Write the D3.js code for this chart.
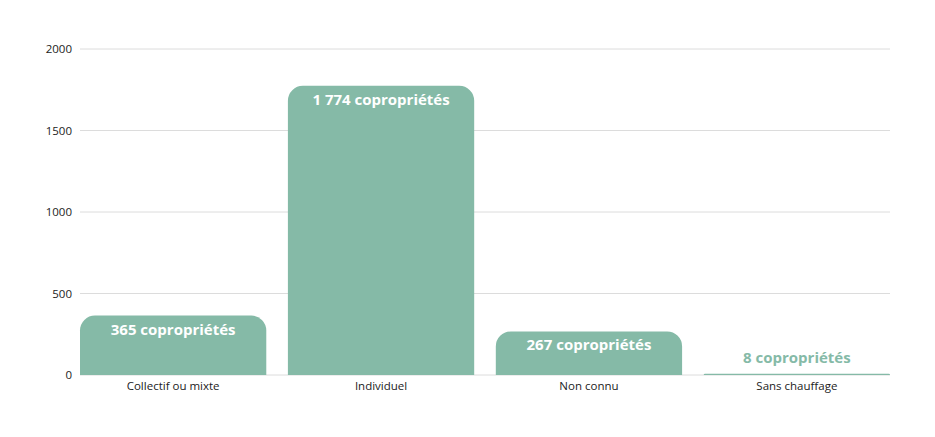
<!DOCTYPE html>
<html>
<head>
<meta charset="utf-8">
<script src="https://cdn.jsdelivr.net/npm/d3@7"></script>
<style>
  body { margin: 0; background: #fff; }
  svg text { font-family: "Open Sans", sans-serif; }
</style>
</head>
<body>
<script>
var categories = ['Collectif ou mixte', 'Individuel', 'Non connu', 'Sans chauffage'];
var values = [365, 1774, 267, 8];
var yTicks = [0, 500, 1000, 1500, 2000];

var width = 935, height = 437;
var margin = {top: 49, right: 45, bottom: 62, left: 80};
var color = '#85baa7';

var svg = d3.select('body').append('svg')
  .attr('width', width)
  .attr('height', height);

var x = d3.scaleBand()
  .domain(categories)
  .range([margin.left, width - margin.right])
  .paddingInner(0.104)
  .paddingOuter(0);

var y = d3.scaleLinear()
  .domain([0, 2000])
  .range([height - margin.bottom, margin.top]);

// grid lines
svg.append('g')
  .selectAll('line')
  .data(yTicks)
  .enter().append('line')
  .attr('x1', margin.left)
  .attr('x2', width - margin.right)
  .attr('y1', function(d) { return y(d); })
  .attr('y2', function(d) { return y(d); })
  .attr('stroke', '#dcdcdc')
  .attr('stroke-width', 1);

// y axis labels
var yAxis = svg.append('g')
  .attr('transform', 'translate(' + margin.left + ',0)')
  .call(d3.axisLeft(y).tickValues(yTicks).tickSize(0).tickPadding(8).tickFormat(d3.format('d')));
yAxis.select('.domain').remove();
yAxis.selectAll('text').attr('font-size', 11.5).attr('fill', '#222');

// rounded-top bars
function barPath(d, i) {
  var x0 = x(categories[i]), w = x.bandwidth();
  var y0 = y(0), y1 = y(d);
  var r = Math.min(15, (y0 - y1));
  return 'M' + x0 + ',' + y0 +
    'V' + (y1 + r) +
    'A' + r + ',' + r + ' 0 0 1 ' + (x0 + r) + ',' + y1 +
    'H' + (x0 + w - r) +
    'A' + r + ',' + r + ' 0 0 1 ' + (x0 + w) + ',' + (y1 + r) +
    'V' + y0 + 'Z';
}

svg.append('g')
  .selectAll('path')
  .data(values)
  .enter().append('path')
  .attr('d', barPath)
  .attr('fill', color);

// x axis
var xAxis = svg.append('g')
  .attr('transform', 'translate(0,' + y(0) + ')')
  .call(d3.axisBottom(x).tickSize(0).tickPadding(7));
xAxis.select('.domain').remove();
xAxis.selectAll('text').attr('font-size', 11.5).attr('fill', '#222');

// value labels
svg.append('g')
  .selectAll('text')
  .data(values)
  .enter().append('text')
  .attr('x', function(d, i) { return x(categories[i]) + x.bandwidth() / 2; })
  .attr('y', function(d) {
    return (y(0) - y(d)) > 30 ? y(d) + 19 : y(d) - 11;
  })
  .attr('text-anchor', 'middle')
  .attr('font-size', 15)
  .attr('font-weight', 'bold')
  .attr('fill', function(d) { return (y(0) - y(d)) > 30 ? '#fff' : color; })
  .text(function(d) { return d3.format(',')(d).replace(',', ' ') + ' copropriétés'; });
</script>
</body>
</html>
